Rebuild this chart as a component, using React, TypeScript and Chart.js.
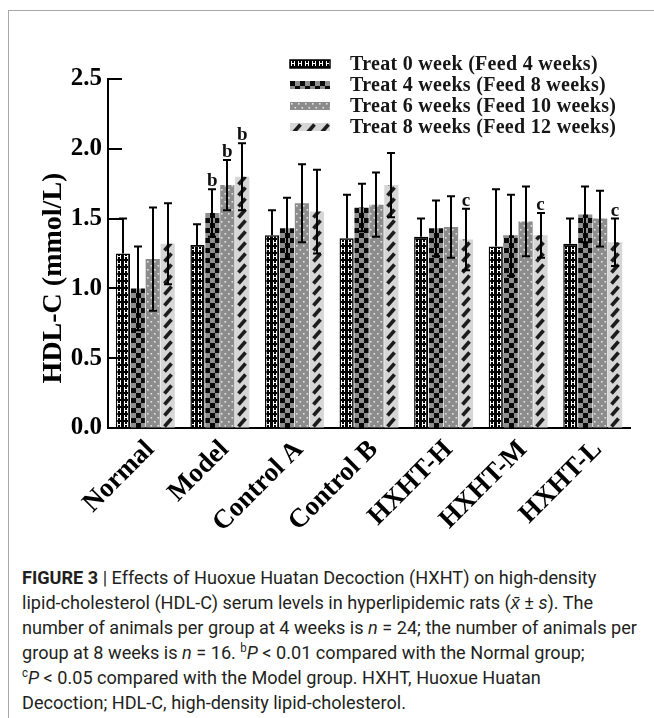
import React, { useEffect, useRef } from 'react';
import { Chart, registerables } from 'chart.js';

Chart.register(...registerables);

// ---------- data ----------
const categories = ['Normal', 'Model', 'Control A', 'Control B', 'HXHT-H', 'HXHT-M', 'HXHT-L'];
const seriesLabels = [
  'Treat 0 week (Feed 4 weeks)',
  'Treat 4 weeks (Feed 8 weeks)',
  'Treat 6 weeks (Feed 10 weeks)',
  'Treat 8 weeks (Feed 12 weeks)',
];
const treat0 = [1.25, 1.31, 1.38, 1.36, 1.37, 1.30, 1.32];
const treat4 = [1.00, 1.54, 1.43, 1.58, 1.43, 1.38, 1.53];
const treat6 = [1.21, 1.74, 1.61, 1.60, 1.44, 1.48, 1.50];
const treat8 = [1.32, 1.80, 1.55, 1.74, 1.35, 1.38, 1.33];
const sd0 = [0.25, 0.15, 0.18, 0.31, 0.13, 0.41, 0.18];
const sd4 = [0.30, 0.17, 0.22, 0.17, 0.20, 0.29, 0.20];
const sd6 = [0.37, 0.18, 0.28, 0.23, 0.22, 0.25, 0.20];
const sd8 = [0.29, 0.24, 0.30, 0.23, 0.22, 0.16, 0.17];
const yTicks = [0, 0.5, 1.0, 1.5, 2.0, 2.5];
const yTitle = 'HDL-C (mmol/L)';
const sigGroups = [1, 1, 1, 4, 5, 6];
const sigSeries = [1, 2, 3, 3, 3, 3];
const sigMarks = ['b', 'b', 'b', 'c', 'c', 'c'];

const seriesValues = [treat0, treat4, treat6, treat8];
const seriesSD = [sd0, sd4, sd6, sd8];

const SERIF = "'Liberation Serif', 'Times New Roman', serif";
const CAT_PCT = 0.8;
const BAR_PCT = 0.95;

// ---------- fill patterns ----------
function makeTile(kind: number): HTMLCanvasElement {
  const c = document.createElement('canvas');
  if (kind === 0) {
    c.width = 7; c.height = 7;
    const g = c.getContext('2d')!;
    g.fillStyle = '#000'; g.fillRect(0, 0, 7, 7);
    g.fillStyle = '#fff';
    g.fillRect(1, 1, 1, 5);
    g.fillRect(4, 1, 1, 5);
    g.fillRect(1, 3, 4, 1);
  } else if (kind === 1) {
    c.width = 10; c.height = 10;
    const g = c.getContext('2d')!;
    g.fillStyle = '#8f8f8f'; g.fillRect(0, 0, 10, 10);
    g.fillStyle = '#0a0a0a';
    g.fillRect(0, 0, 5, 5);
    g.fillRect(5, 5, 5, 5);
  } else if (kind === 2) {
    c.width = 7; c.height = 8;
    const g = c.getContext('2d')!;
    g.fillStyle = '#8c8c8c'; g.fillRect(0, 0, 7, 8);
    g.fillStyle = '#e2e2e2';
    g.fillRect(1, 1, 1.6, 1.6);
    g.fillRect(4.5, 5, 1.6, 1.6);
  } else {
    c.width = 14; c.height = 11;
    const g = c.getContext('2d')!;
    g.fillStyle = '#d6d6d6'; g.fillRect(0, 0, 14, 11);
    g.strokeStyle = '#1c1c1c'; g.lineWidth = 3.6; g.lineCap = 'butt';
    g.beginPath(); g.moveTo(3.5, 9.5); g.lineTo(10.5, 1.5); g.stroke();
  }
  return c;
}

const tiles: HTMLCanvasElement[] = [];
function tile(kind: number) {
  if (!tiles[kind]) tiles[kind] = makeTile(kind);
  return tiles[kind];
}
const flatColors = ['#000000', '#8f8f8f', '#8c8c8c', '#d6d6d6'];

function barFill(kind: number) {
  return (ctx: any) => {
    const chart = ctx.chart;
    const xs = chart.scales && chart.scales.x;
    const area = chart.chartArea;
    if (!xs || !area || ctx.dataIndex === undefined) return flatColors[kind];
    const cw = xs.width / categories.length;
    const size = cw * CAT_PCT;
    const chunk = size / 4;
    const center = xs.getPixelForValue(ctx.dataIndex);
    const left = center - size / 2 + chunk * kind + (chunk * (1 - BAR_PCT)) / 2;
    const pat = chart.ctx.createPattern(tile(kind), 'repeat');
    if (!pat) return flatColors[kind];
    pat.setTransform(new DOMMatrix([1, 0, 0, 1, Math.round(left), Math.round(area.bottom)]));
    return pat;
  };
}

// ---------- overlay plugin: inward ticks, error bars, marks, axis title, legend ----------
const overlayPlugin = {
  id: 'overlay',
  afterDatasetsDraw(chart: any) {
    const ctx: CanvasRenderingContext2D = chart.ctx;
    const y = chart.scales.y;
    const area = chart.chartArea;
    ctx.save();
    ctx.strokeStyle = '#000';
    ctx.lineWidth = 2;
    yTicks.forEach((v) => {
      const py = Math.round(y.getPixelForValue(v));
      ctx.beginPath();
      ctx.moveTo(area.left, py);
      ctx.lineTo(area.left + 14, py);
      ctx.stroke();
    });
    ctx.lineWidth = 2;
    seriesValues.forEach((vals, i) => {
      const meta = chart.getDatasetMeta(i);
      vals.forEach((v, j) => {
        const el = meta.data[j];
        if (!el) return;
        const x = Math.round(el.x);
        const top = y.getPixelForValue(v + seriesSD[i][j]);
        const bot = y.getPixelForValue(i === 0 ? v : v - seriesSD[i][j]);
        ctx.beginPath();
        ctx.moveTo(x, bot);
        ctx.lineTo(x, top);
        ctx.moveTo(x - 4, top);
        ctx.lineTo(x + 4, top);
        if (i !== 0) {
          ctx.moveTo(x - 4, bot);
          ctx.lineTo(x + 4, bot);
        }
        ctx.stroke();
      });
    });
    ctx.fillStyle = '#111';
    ctx.font = `bold 19px ${SERIF}`;
    ctx.textAlign = 'center';
    ctx.textBaseline = 'alphabetic';
    sigMarks.forEach((m, k) => {
      const i = sigSeries[k];
      const j = sigGroups[k];
      const el = chart.getDatasetMeta(i).data[j];
      const top = y.getPixelForValue(seriesValues[i][j] + seriesSD[i][j]);
      ctx.fillText(m, el.x, top - 3);
    });
    ctx.restore();
  },
  afterDraw(chart: any) {
    const ctx: CanvasRenderingContext2D = chart.ctx;
    ctx.save();
    ctx.translate(45, 267);
    ctx.rotate(-Math.PI / 2);
    ctx.fillStyle = '#000';
    ctx.font = `bold 28px ${SERIF}`;
    ctx.textAlign = 'center';
    ctx.textBaseline = 'middle';
    ctx.fillText(yTitle, 0, 0);
    ctx.restore();
    ctx.save();
    const rows = [53, 74, 95, 116];
    seriesLabels.forEach((label, i) => {
      const cy = rows[i];
      const bx = 281, bw = 40, bh = 8;
      const pat = ctx.createPattern(tile(i), 'repeat');
      if (pat) pat.setTransform(new DOMMatrix([1, 0, 0, 1, bx, cy - bh / 2]));
      ctx.fillStyle = pat || flatColors[i];
      ctx.fillRect(bx, cy - bh / 2, bw, bh);
      if (i === 0) {
        ctx.strokeStyle = '#000';
        ctx.lineWidth = 1.5;
        ctx.strokeRect(bx, cy - bh / 2, bw, bh);
      }
      ctx.fillStyle = '#161616';
      ctx.font = `bold 20px ${SERIF}`;
      (ctx as any).letterSpacing = '0.3px';
      ctx.textAlign = 'left';
      ctx.textBaseline = 'middle';
      ctx.fillText(label, 341, cy + 1);
      (ctx as any).letterSpacing = '0px';
    });
    ctx.restore();
  },
};

function ChartCanvas() {
  const ref = useRef<HTMLCanvasElement | null>(null);
  useEffect(() => {
    if (!ref.current) return;
    const chart = new Chart(ref.current, {
      type: 'bar',
      data: {
        labels: categories,
        datasets: seriesValues.map((vals, i) => ({
          label: seriesLabels[i],
          data: vals,
          backgroundColor: barFill(i) as any,
          borderColor: i === 0 ? '#000' : 'rgba(0,0,0,0)',
          borderWidth: i === 0 ? 1.5 : 0,
          categoryPercentage: CAT_PCT,
          barPercentage: BAR_PCT,
        })),
      },
      options: {
        responsive: false,
        animation: false,
        devicePixelRatio: 1,
        layout: { padding: { left: 0, top: 68, right: 24, bottom: 0 } },
        plugins: {
          legend: { display: false },
          tooltip: { enabled: false },
          title: { display: false },
        },
        scales: {
          x: {
            type: 'category',
            grid: { display: false, drawTicks: false },
            border: { display: true, color: '#000', width: 2 },
            ticks: {
              color: '#000',
              font: { family: SERIF, size: 27, weight: 'bold' },
              maxRotation: 45,
              minRotation: 45,
              padding: 6,
              labelOffset: 5,
              autoSkip: false,
            },
            afterFit: (s: any) => { s.height = 113; },
          },
          y: {
            min: 0,
            max: 2.5,
            grid: { display: true, drawOnChartArea: false, drawTicks: false },
            border: { display: true, color: '#000', width: 2 },
            ticks: {
              stepSize: 0.5,
              color: '#000',
              padding: 6,
              font: { family: SERIF, size: 25, weight: 'bold' },
              callback: (v: any) => Number(v).toFixed(1),
            },
            afterFit: (s: any) => { s.width = 99; },
          },
        },
      },
      plugins: [overlayPlugin],
    });
    return () => chart.destroy();
  }, []);
  return <canvas ref={ref} width={645} height={530} style={{ display: 'block', position: 'absolute', left: 0, top: 0 }} />;
}

const captionFont = "'Roboto', 'Liberation Sans', sans-serif";

export default function App() {
  return (
    <div
      style={{
        position: 'absolute',
        left: 8,
        top: 10,
        width: 645,
        height: 707,
        borderLeft: '1px solid #a8a8a8',
        borderTop: '1px solid #a8a8a8',
        background: '#fff',
        overflow: 'hidden',
      }}
    >
      <ChartCanvas />
      <div
        style={{
          position: 'absolute',
          left: 13,
          top: 554,
          fontFamily: captionFont,
          fontSize: 19,
          lineHeight: '25px',
          color: '#231f20',
          whiteSpace: 'nowrap',
          transform: 'scaleX(0.953)',
          transformOrigin: 'left top',
        }}
      >
        <div><b>FIGURE 3</b> | Effects of Huoxue Huatan Decoction (HXHT) on high-density</div>
        <div>lipid-cholesterol (HDL-C) serum levels in hyperlipidemic rats (<i>x̄</i> ± <i>s</i>). The</div>
        <div>number of animals per group at 4 weeks is <i>n</i> = 24; the number of animals per</div>
        <div>group at 8 weeks is <i>n</i> = 16. <sup style={{ fontSize: 12, lineHeight: 0 }}>b</sup><i>P</i> &lt; 0.01 compared with the Normal group;</div>
        <div><sup style={{ fontSize: 12, lineHeight: 0 }}>c</sup><i>P</i> &lt; 0.05 compared with the Model group. HXHT, Huoxue Huatan</div>
        <div>Decoction; HDL-C, high-density lipid-cholesterol.</div>
      </div>
    </div>
  );
}
